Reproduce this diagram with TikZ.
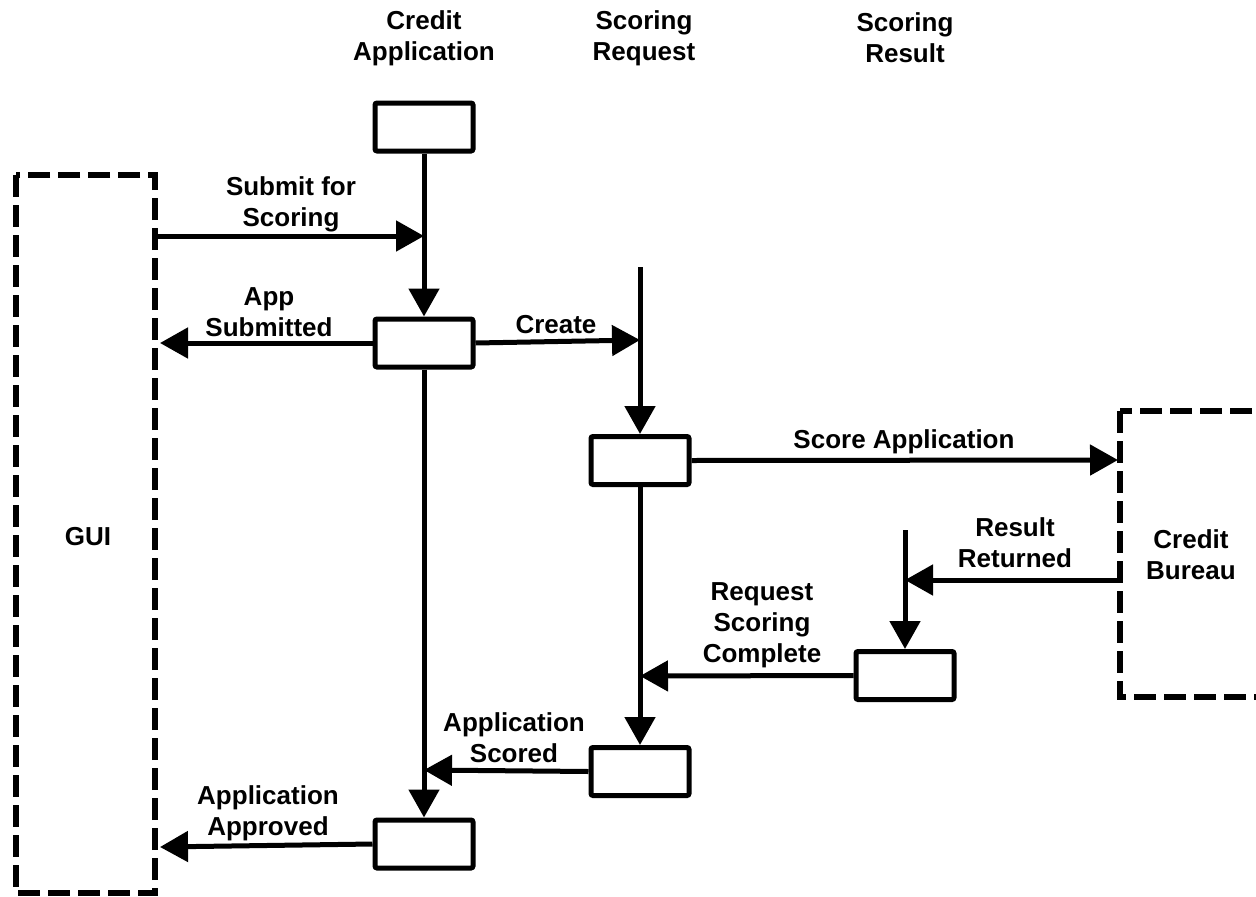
\documentclass[tikz,border=0pt]{standalone}
\usepackage{fontspec}
\setmainfont{Liberation Sans}
\usetikzlibrary{arrows.meta}

\begin{document}
\begin{tikzpicture}[x=1pt,y=-1pt,
  every node/.style={font=\fontsize{26}{31}\selectfont\bfseries, align=center, inner sep=0pt},
  statebox/.style={draw, line width=5pt, rounded corners=2pt,
    minimum width=98pt, minimum height=48pt, fill=white},
  flow/.style={line width=5pt, -{Triangle[length=28pt,width=30pt]}},
  actor/.style={line width=6pt, dash pattern=on 22pt off 8pt}
]
\useasboundingbox (0,0) rectangle (1256,897);
\clip (0,0) rectangle (1256,897);

% lifeline headings
\node (hApp) at (424,38) {Credit\\Application};
\node (hReq) at (644,38) {Scoring\\Request};
\node (hRes) at (905,38) {Scoring\\Result};

% external actors
\draw[actor] (16,175) rectangle (155,893);
\node (gui) at (88,537) {GUI};
\coordinate (guiB) at (160,343);
\coordinate (guiC) at (160,847);

\draw[actor] (1120,411) rectangle (1320,697);
\node (bureau) at (1191,555) {Credit\\Bureau};
\coordinate (burA) at (1118,460);

% state boxes
\node[statebox] (b1) at (424,127) {};
\node[statebox] (b2) at (424,343) {};
\node[statebox] (b3) at (640,460.5) {};
\node[statebox] (b4) at (905,675.5) {};
\node[statebox] (b5) at (640,771.5) {};
\node[statebox] (b6) at (424,844) {};

% lifeline starts and join points
\coordinate (reqTop) at (640,267);
\coordinate (resTop) at (905,530);
\coordinate (appJoin) at (424,236);
\coordinate (reqJoin) at (640,340);
\coordinate (resJoin) at (905,580);
\coordinate (reqJoin2) at (640,676);
\coordinate (appJoin2) at (424,770);
\coordinate (guiOut) at (155,236);
\coordinate (burOut) at (1120,580);

% lifelines
\draw[flow] (b1.south) -- (b2.north);
\draw[flow] (b2.south) -- (b6.north);
\draw[flow] (reqTop) -- (b3.north);
\draw[flow] (b3.south) -- (b5.north);
\draw[flow] (resTop) -- (b4.north);

% messages
\draw[flow] (guiOut) -- (appJoin);
\draw[flow] (b2.west) -- (guiB);
\draw[flow] (b2.east) -- (reqJoin);
\draw[flow] (b3.east) -- (burA);
\draw[flow] (burOut) -- (resJoin);
\draw[flow] (b4.west) -- (reqJoin2);
\draw[flow] (b5.west) -- (appJoin2);
\draw[flow] (b6.west) -- (guiC);

% message labels
\node (lSubmit) at (291,204) {Submit for\\Scoring};
\node (lAppSub) at (269,312) {App\\Submitted};
\node (lCreate) at (556,325) {Create};
\node (lScore) at (904,442) {Score Application};
\node (lResult) at (1015,543) {Result\\Returned};
\node (lReqDone) at (762,625) {Request\\Scoring\\Complete};
\node (lScored) at (514,738) {Application\\Scored};
\node (lApproved) at (268,813) {Application\\Approved};
\end{tikzpicture}
\end{document}
